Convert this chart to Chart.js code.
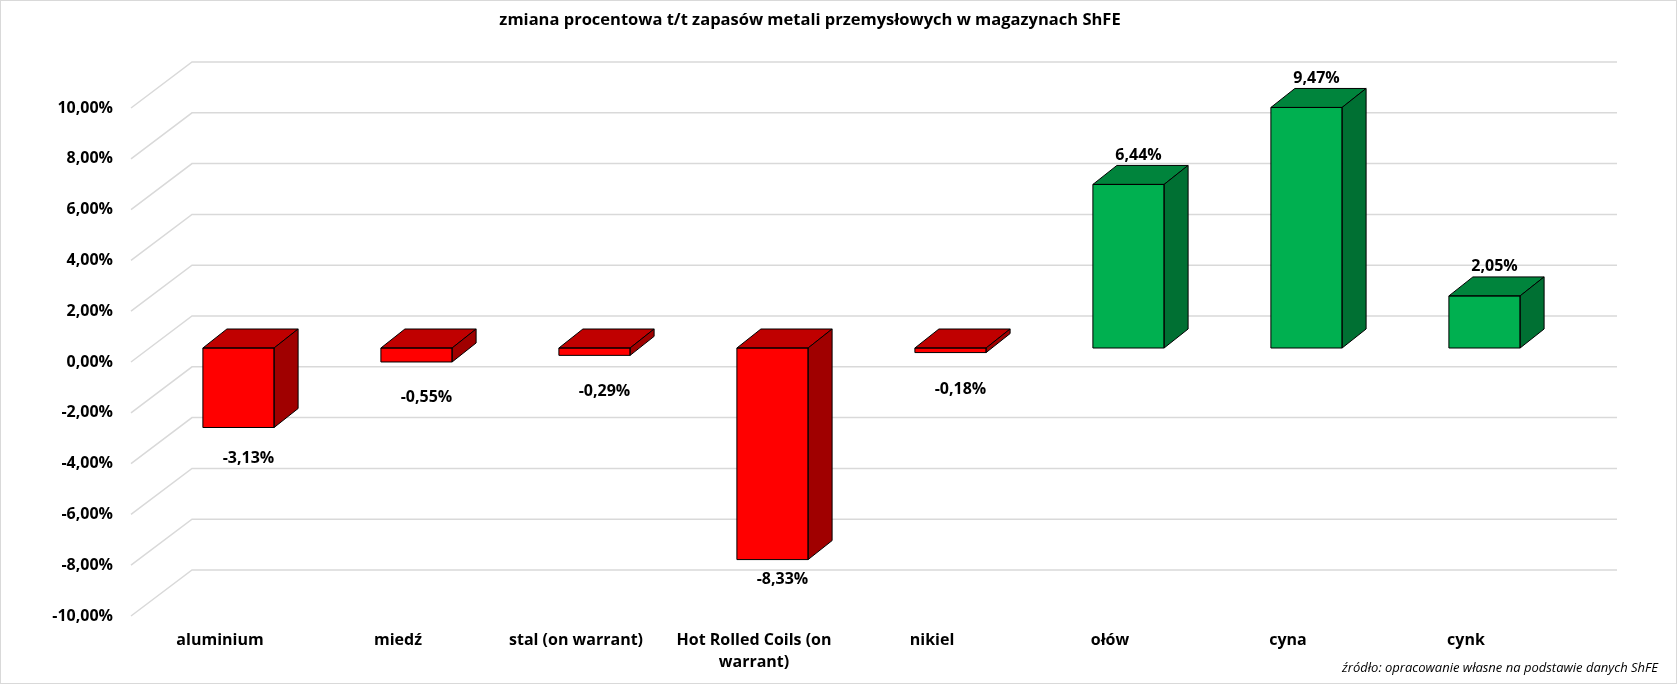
<!DOCTYPE html>
<html><head><meta charset="utf-8">
<script src="https://cdn.jsdelivr.net/npm/chart.js@4"></script>
<style>html,body{margin:0;padding:0;background:#fff}</style>
</head><body>
<canvas id="c" width="1677" height="685"></canvas>
<script>
// ---- data ----
const categories = ['aluminium', 'miedź', 'stal (on warrant)', ['Hot Rolled Coils (on', 'warrant)'], 'nikiel', 'ołów', 'cyna', 'cynk'];
const values = [-3.13, -0.55, -0.29, -8.33, -0.18, 6.44, 9.47, 2.05];
const tickValues = [-10, -8, -6, -4, -2, 0, 2, 4, 6, 8, 10];
const titleText = 'zmiana procentowa t/t zapasów metali przemysłowych w magazynach ShFE';
const sourceText = 'źródło: opracowanie własne na podstawie danych ShFE';

// ---- styles ----
const FONT = '"Open Sans", "DejaVu Sans", sans-serif';
const FLOOR = {dx: 61, dy: -46};
const PLANE = {dx: 18.5, dy: -14};
const DEPTH = {dx: 24, dy: -19};
const COLORS = {
  neg: {front: '#FF0000', top: '#C00000', side: '#A00000'},
  pos: {front: '#00B050', top: '#00843C', side: '#007033'}
};
const fmt = v => v.toFixed(2).replace('.', ',') + '%';

const threeD = {
  id: 'threeD',
  beforeDatasetsDraw(chart) {
    const {ctx, chartArea: a, scales: {y}} = chart;
    ctx.save();
    ctx.strokeStyle = '#D9D9D9';
    ctx.lineWidth = 1.5;
    y.ticks.forEach(t => {
      const py = y.getPixelForValue(t.value);
      ctx.beginPath();
      ctx.moveTo(a.left, py);
      ctx.lineTo(a.left + FLOOR.dx, py + FLOOR.dy);
      ctx.lineTo(a.right + FLOOR.dx + 1, py + FLOOR.dy);
      ctx.stroke();
    });
    ctx.restore();
    ctx.save();
    ctx.translate(PLANE.dx, PLANE.dy);
  },
  afterDatasetsDraw(chart) {
    const {ctx} = chart;
    const meta = chart.getDatasetMeta(0);
    ctx.lineWidth = 1;
    ctx.strokeStyle = '#000';
    ctx.lineJoin = 'round';
    meta.data.forEach((bar, i) => {
      const p = bar.getProps(['x', 'y', 'base', 'width'], true);
      const c = values[i] < 0 ? COLORS.neg : COLORS.pos;
      const l = p.x - p.width / 2, r = p.x + p.width / 2;
      const t = Math.min(p.y, p.base), b = Math.max(p.y, p.base);
      // top face
      ctx.beginPath();
      ctx.moveTo(l, t);
      ctx.lineTo(l + DEPTH.dx, t + DEPTH.dy);
      ctx.lineTo(r + DEPTH.dx, t + DEPTH.dy);
      ctx.lineTo(r, t);
      ctx.closePath();
      ctx.fillStyle = c.top; ctx.fill(); ctx.stroke();
      // side face
      ctx.beginPath();
      ctx.moveTo(r, t);
      ctx.lineTo(r + DEPTH.dx, t + DEPTH.dy);
      ctx.lineTo(r + DEPTH.dx, b + DEPTH.dy);
      ctx.lineTo(r, b);
      ctx.closePath();
      ctx.fillStyle = c.side; ctx.fill(); ctx.stroke();
      // front outline
      ctx.strokeRect(l, t, r - l, b - t);
    });
    ctx.restore();
    // data labels
    ctx.save();
    ctx.font = 'bold 16px ' + FONT;
    ctx.fillStyle = '#000';
    ctx.textAlign = 'center';
    ctx.textBaseline = 'middle';
    meta.data.forEach((bar, i) => {
      const p = bar.getProps(['x', 'y', 'base'], true);
      const v = values[i];
      const x = p.x + PLANE.dx + 10;
      let y;
      if (v >= 0) y = Math.min(p.y, p.base) + PLANE.dy - 29;
      else y = Math.max(p.y, p.base) + PLANE.dy + 37 - 2 * Math.abs(v);
      ctx.fillText(fmt(v), x, y);
    });
    ctx.restore();
  },
  afterDraw(chart) {
    const {ctx} = chart;
    ctx.save();
    ctx.fillStyle = '#000';
    ctx.textBaseline = 'middle';
    ctx.font = 'bold 16.5px ' + FONT;
    ctx.textAlign = 'center';
    ctx.fillText(titleText, 810, 20);
    ctx.font = 'italic 13px ' + FONT;
    ctx.textAlign = 'right';
    ctx.fillText(sourceText, 1658, 668);
    ctx.strokeStyle = '#D9D9D9';
    ctx.lineWidth = 1;
    ctx.strokeRect(0.5, 0.5, chart.width - 1, chart.height - 2);
    ctx.restore();
  }
};

new Chart(document.getElementById('c'), {
  type: 'bar',
  data: {
    labels: categories,
    datasets: [{
      data: values,
      backgroundColor: values.map(v => v < 0 ? COLORS.neg.front : COLORS.pos.front),
      borderWidth: 0,
      barPercentage: 0.4,
      categoryPercentage: 1,
      clip: false
    }]
  },
  options: {
    responsive: false,
    animation: false,
    devicePixelRatio: 1,
    layout: {padding: {left: 0, right: 122, top: 108, bottom: 0}},
    plugins: {
      legend: {display: false},
      tooltip: {enabled: false},
      title: {display: false}
    },
    scales: {
      x: {
        grid: {display: false, drawTicks: false},
        border: {display: false},
        ticks: {
          color: '#000',
          padding: 13,
          maxRotation: 0,
          autoSkip: false,
          font: {family: FONT, size: 16, weight: 'bold', lineHeight: 1.375}
        },
        afterFit: s => { s.height = 69; }
      },
      y: {
        min: -10, max: 10,
        grid: {display: false, drawTicks: false},
        border: {display: false},
        afterBuildTicks: s => { s.ticks = tickValues.map(v => ({value: v})); },
        ticks: {
          color: '#000',
          padding: 18,
          callback: v => fmt(v),
          font: {family: FONT, size: 16, weight: 'bold'}
        },
        afterFit: s => { s.width = 131; }
      }
    }
  },
  plugins: [threeD]
});
</script>
</body></html>
